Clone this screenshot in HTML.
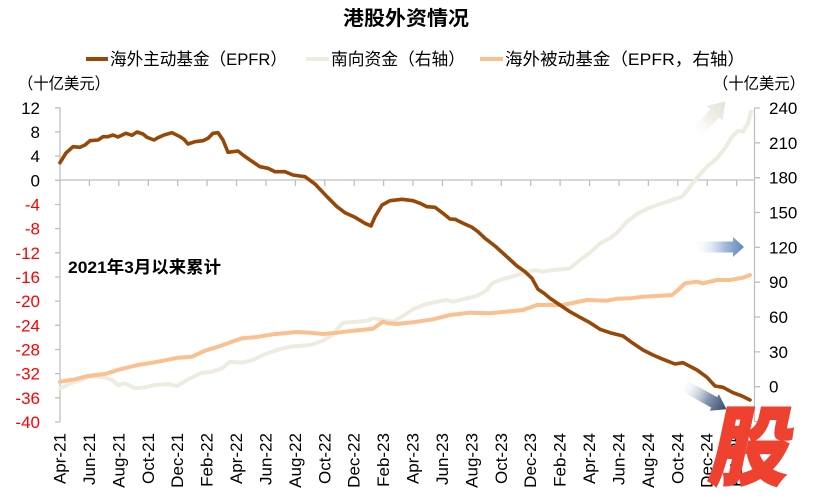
<!DOCTYPE html>
<html><head><meta charset="utf-8"><style>
html,body{margin:0;padding:0;background:#fff;}
svg{display:block;font-family:"Liberation Sans","Noto Sans CJK SC",sans-serif;}
</style></head><body>
<svg width="815" height="501" viewBox="0 0 815 501" xmlns="http://www.w3.org/2000/svg">
<defs>
<linearGradient id="gc" gradientUnits="userSpaceOnUse" x1="0" y1="0" x2="48" y2="0"><stop offset="0" stop-color="#fff" stop-opacity="0"/><stop offset="0.55" stop-color="#F0EFE7"/><stop offset="1" stop-color="#E4E2D6"/></linearGradient>
<linearGradient id="gb" gradientUnits="userSpaceOnUse" x1="0" y1="0" x2="51" y2="0"><stop offset="0" stop-color="#fff" stop-opacity="0"/><stop offset="0.6" stop-color="#A9BEDC"/><stop offset="1" stop-color="#5B86C0"/></linearGradient>
<linearGradient id="gd" gradientUnits="userSpaceOnUse" x1="0" y1="0" x2="52" y2="0"><stop offset="0" stop-color="#fff" stop-opacity="0"/><stop offset="0.6" stop-color="#8594AF"/><stop offset="1" stop-color="#34486C"/></linearGradient>
</defs>

<!-- title -->
<text x="343" y="25" font-size="20" font-weight="bold" textLength="126" lengthAdjust="spacingAndGlyphs">港股外资情况</text>

<!-- legend -->
<line x1="86" y1="59" x2="108" y2="59" stroke="#974706" stroke-width="4"/>
<text x="110" y="65" font-size="17" textLength="177" lengthAdjust="spacingAndGlyphs">海外主动基金（EPFR）</text>
<line x1="306" y1="59" x2="329" y2="59" stroke="#EEECE1" stroke-width="4"/>
<text x="331" y="65" font-size="17" textLength="134" lengthAdjust="spacingAndGlyphs">南向资金（右轴）</text>
<line x1="480" y1="59" x2="503" y2="59" stroke="#FAC090" stroke-width="4"/>
<text x="505" y="65" font-size="17" textLength="240" lengthAdjust="spacingAndGlyphs">海外被动基金（EPFR，右轴）</text>

<!-- units -->
<text x="18" y="89" font-size="16" textLength="92" lengthAdjust="spacingAndGlyphs">（十亿美元）</text>
<text x="713" y="89" font-size="16" textLength="92" lengthAdjust="spacingAndGlyphs">（十亿美元）</text>

<!-- axes -->
<g stroke="#BFBFBF" stroke-width="1.3" fill="none">
<line x1="60" y1="107.8" x2="60" y2="422"/>
<line x1="754.5" y1="108" x2="754.5" y2="422"/>
<line x1="60" y1="180" x2="754.5" y2="180"/>
<path d="M55,107.8H60M55,131.9H60M55,156.1H60M55,180.3H60M55,204.5H60M55,228.6H60M55,252.8H60M55,277H60M55,301.1H60M55,325.3H60M55,349.5H60M55,373.6H60M55,397.8H60M55,422H60"/>
<path d="M754.5,108H760M754.5,142.8H760M754.5,177.7H760M754.5,212.5H760M754.5,247.3H760M754.5,282.2H760M754.5,317H760M754.5,351.9H760M754.5,386.7H760M754.5,421.5H760"/>
<path d="M89.4,180V186M118.8,180V186M148.3,180V186M177.7,180V186M207.1,180V186M236.5,180V186M266,180V186M295.4,180V186M324.8,180V186M354.2,180V186M383.6,180V186M413,180V186M442.5,180V186M471.9,180V186M501.3,180V186M530.7,180V186M560.1,180V186M589.6,180V186M619,180V186M648.4,180V186M677.8,180V186M707.2,180V186M736.7,180V186"/>
</g>

<!-- left labels -->
<g font-size="17" text-anchor="end">
<text x="40" y="113.8">12</text>
<text x="40" y="137.9">8</text>
<text x="40" y="162.1">4</text>
<text x="40" y="186.3">0</text>
<g fill="#FF0000">
<text x="40" y="210.5">-4</text>
<text x="40" y="234.6">-8</text>
<text x="40" y="258.8">-12</text>
<text x="40" y="283">-16</text>
<text x="40" y="307.1">-20</text>
<text x="40" y="331.3">-24</text>
<text x="40" y="355.5">-28</text>
<text x="40" y="379.6">-32</text>
<text x="40" y="403.8">-36</text>
<text x="40" y="428">-40</text>
</g>
</g>

<!-- right labels -->
<g font-size="17">
<text x="769" y="114">240</text>
<text x="769" y="148.8">210</text>
<text x="769" y="183.7">180</text>
<text x="769" y="218.5">150</text>
<text x="769" y="253.3">120</text>
<text x="769" y="288.2">90</text>
<text x="769" y="323">60</text>
<text x="769" y="357.9">30</text>
<text x="769" y="392.7">0</text>
</g>

<!-- x labels -->
<g font-size="17" text-anchor="end">
<text transform="translate(60,433) rotate(-90)" dy="0.32em">Apr-21</text>
<text transform="translate(89.4,433) rotate(-90)" dy="0.32em">Jun-21</text>
<text transform="translate(118.8,433) rotate(-90)" dy="0.32em">Aug-21</text>
<text transform="translate(148.3,433) rotate(-90)" dy="0.32em">Oct-21</text>
<text transform="translate(177.7,433) rotate(-90)" dy="0.32em">Dec-21</text>
<text transform="translate(207.1,433) rotate(-90)" dy="0.32em">Feb-22</text>
<text transform="translate(236.5,433) rotate(-90)" dy="0.32em">Apr-22</text>
<text transform="translate(266,433) rotate(-90)" dy="0.32em">Jun-22</text>
<text transform="translate(295.4,433) rotate(-90)" dy="0.32em">Aug-22</text>
<text transform="translate(324.8,433) rotate(-90)" dy="0.32em">Oct-22</text>
<text transform="translate(354.2,433) rotate(-90)" dy="0.32em">Dec-22</text>
<text transform="translate(383.6,433) rotate(-90)" dy="0.32em">Feb-23</text>
<text transform="translate(413,433) rotate(-90)" dy="0.32em">Apr-23</text>
<text transform="translate(442.5,433) rotate(-90)" dy="0.32em">Jun-23</text>
<text transform="translate(471.9,433) rotate(-90)" dy="0.32em">Aug-23</text>
<text transform="translate(501.3,433) rotate(-90)" dy="0.32em">Oct-23</text>
<text transform="translate(530.7,433) rotate(-90)" dy="0.32em">Dec-23</text>
<text transform="translate(560.1,433) rotate(-90)" dy="0.32em">Feb-24</text>
<text transform="translate(589.6,433) rotate(-90)" dy="0.32em">Apr-24</text>
<text transform="translate(619,433) rotate(-90)" dy="0.32em">Jun-24</text>
<text transform="translate(648.4,433) rotate(-90)" dy="0.32em">Aug-24</text>
<text transform="translate(677.8,433) rotate(-90)" dy="0.32em">Oct-24</text>
<text transform="translate(707.2,433) rotate(-90)" dy="0.32em">Dec-24</text>
<text transform="translate(736.7,433) rotate(-90)" dy="0.32em">Feb-25</text>
</g>

<!-- annotation -->
<text x="68" y="273" font-size="17" font-weight="bold" textLength="153" lengthAdjust="spacingAndGlyphs">2021年3月以来累计</text>

<!-- series -->
<g fill="none" stroke-linejoin="round" stroke-linecap="round">
<polyline stroke="#EEECE1" stroke-width="4" points="60,388.3 72,382.7 82,380 88,376.7 102,376.7 112,380 118,385 125,383.3 135,388.3 145,387.3 155,385 168,384 177,386 188,379.3 202,372.7 212,371.7 222,368.3 230,361.7 242,362.7 253,360 263,355 277,350 290,346.7 310,345 323,340.7 332,335 343,322.7 357,321.7 367,320.7 373,318.3 383,320 393,321.7 403,316 413,309.3 423,305 437,301.7 447,300 453,301.7 467,298.3 477,296 487,290 492,283.3 502,279.3 512,276.7 522,273.3 535,270 543,271.7 553,270 563,269.3 570,268.3 580,260 590,252.7 600,243.3 610,238.3 618,231.7 627,221.7 637,214 648,208.3 657,205 670,200.7 682,196.7 690,186.7 698,176.7 707,166.7 717,158.3 725,148.3 732,136.7 738,130.7 743,131.7 748,123.3 751,111.7"/>
<polyline stroke="#FAC090" stroke-width="4" points="60,381.7 75,379.3 88,376 105,374 120,369.3 138,365 158,361.7 178,357.7 192,356.7 205,350.7 218,346.7 232,341.7 242,338.3 255,337.3 273,334.3 297,332 310,332.7 323,334 337,332.7 353,330.7 373,328.7 383,321.7 388,323.3 397,324 413,322.3 433,319.3 450,315 470,312.7 490,313.3 510,311.3 523,310 537,305 563,305 587,300 607,300.7 617,298.7 630,298.3 643,296.7 657,296 672,295 678,290 685,283.3 697,281.7 703,283.3 717,280 730,280 743,277.7 750,275"/>
<polyline stroke="#974706" stroke-width="3.6" points="60,162.7 66,153 73,146.7 80,147.3 85,145 90,140.7 98,140 103,136.7 108,136.7 113,135 118,137 126,133.3 132,135.3 137,132 143,134 147,137.3 154,140 158,137.7 164,135 172,132.7 180,136.7 184,139.3 188,144 195,141.7 203,140.7 208,138.3 213,133.3 218,132.7 223,140 228,152.3 238,151 243,155 250,160 260,166.7 268,168.3 275,171.7 285,171.7 293,175 300,176 305,176.7 315,184 327,196.7 337,206.7 345,212.7 355,217.3 365,223.3 371,226 375,216.7 382,205 390,200.7 402,199.3 413,200.7 420,203.3 427,206.7 435,207.3 443,213.3 450,219 455,219.3 462,222.7 472,227.3 478,231.7 485,238.3 495,246 505,255 517,266 525,271.7 532,278.3 538,289.3 544,293.3 550,298.3 560,305 570,311.7 580,317.3 590,322.7 600,329.3 610,332.7 623,336 633,343.3 643,350 653,355 663,359.3 675,364 683,362.7 697,370 707,377.3 715,386 723,387.3 733,392.7 742,396 750,400"/>
</g>

<!-- arrows -->
<g transform="translate(693,137) rotate(-47.6)"><path d="M0,-6L32,-6L32,-11L48,0L32,11L32,6L0,6Z" fill="url(#gc)"/></g>
<g transform="translate(693,247)"><path d="M0,-5.5L40,-5.5L40,-10L51,0L40,10L40,5.5L0,5.5Z" fill="url(#gb)"/></g>
<g transform="translate(681,384) rotate(29)"><path d="M0,-6L38,-6L38,-9.5L52,0L38,9.5L38,6L0,6Z" fill="url(#gd)"/></g>

<!-- logo -->
<g transform="translate(707,478) skewX(-12) scale(0.92,1)">
<text x="0" y="0" font-size="86" font-weight="900" fill="#EF4130" stroke="#EF4130" stroke-width="2" font-family="'Noto Sans CJK SC',sans-serif">股</text>
</g>
</svg>
</body></html>
